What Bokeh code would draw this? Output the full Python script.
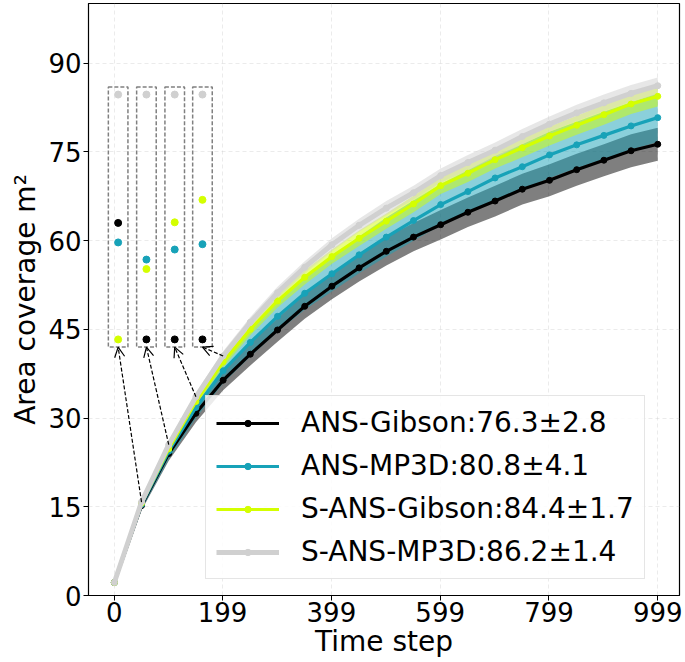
from bokeh.plotting import figure
from bokeh.models import Range1d, FixedTicker, Legend, LegendItem, Arrow, OpenHead
from bokeh.embed import file_html
from bokeh.resources import INLINE

# ---------------- data ----------------
steps = [0, 50, 100, 150, 200, 250, 300, 350, 400, 450, 500,
         550, 600, 650, 700, 750, 800, 850, 900, 950, 999]

ans_gibson = [2.2, 15.2, 24.0, 30.8, 36.4, 40.8, 44.9, 48.9, 52.3, 55.4, 58.2,
              60.6, 62.7, 64.8, 66.7, 68.7, 70.2, 72.0, 73.6, 75.2, 76.3]
ans_mp3d = [2.2, 15.4, 24.4, 31.8, 38.0, 42.8, 47.2, 51.1, 54.4, 57.6, 60.6,
            63.4, 66.1, 68.3, 70.6, 72.5, 74.5, 76.2, 77.8, 79.4, 80.8]
sans_gibson = [2.2, 15.6, 24.8, 32.8, 39.5, 45.0, 49.8, 53.8, 57.3, 60.4, 63.3,
               66.2, 69.3, 71.4, 73.7, 75.7, 77.7, 79.5, 81.3, 83.1, 84.4]
sans_mp3d = [2.2, 15.8, 25.5, 33.6, 40.5, 46.2, 51.2, 55.5, 59.3, 62.6, 65.5,
             68.1, 71.0, 73.2, 75.3, 77.6, 79.7, 81.6, 83.3, 84.9, 86.2]

ans_gibson_std = [0.0, 0.8, 1.2, 1.5, 1.7, 1.9, 2.0, 2.1, 2.2, 2.3, 2.4,
                  2.4, 2.5, 2.5, 2.6, 2.6, 2.7, 2.7, 2.7, 2.8, 2.8]
ans_mp3d_std = [0.0, 0.9, 1.4, 1.8, 2.1, 2.4, 2.6, 2.8, 3.0, 3.1, 3.3,
                3.4, 3.5, 3.6, 3.7, 3.8, 3.9, 3.9, 4.0, 4.0, 4.1]
sans_gibson_std = [0.0, 0.4, 0.6, 0.8, 0.9, 1.0, 1.1, 1.2, 1.2, 1.3, 1.3,
                   1.4, 1.4, 1.5, 1.5, 1.6, 1.6, 1.6, 1.7, 1.7, 1.7]
sans_mp3d_std = [0.0, 0.4, 0.6, 0.7, 0.8, 0.9, 1.0, 1.0, 1.1, 1.1, 1.2,
                 1.2, 1.2, 1.3, 1.3, 1.3, 1.3, 1.4, 1.4, 1.4, 1.4]

labels = ["ANS-Gibson:76.3\u00b12.8", "ANS-MP3D:80.8\u00b14.1",
          "S-ANS-Gibson:84.4\u00b11.7", "S-ANS-MP3D:86.2\u00b11.4"]
colors = ["#000000", "#17a2b8", "#d4ff00", "#d0d0d0"]
line_widths = [3.2, 3.2, 3.2, 5]

# inset (zoomed) boxes: centres in time steps, values shown inside
inset_x = [7, 59, 111, 162]
inset_half_width = 18
inset_bottom = 42.0
inset_top = 86.0
inset_ans_gibson = [63.0, 43.3, 43.3, 43.3]
inset_ans_mp3d = [59.7, 56.8, 58.5, 59.4]
inset_sans_gibson = [43.3, 55.2, 63.1, 66.9]
inset_sans_mp3d = [84.7, 84.7, 84.7, 84.7]
arrow_from_index = [1, 2, 3, 4]

x_ticks = [0, 199, 399, 599, 799, 999]
y_ticks = [0, 15, 30, 45, 60, 75, 90]

FONT = "DejaVu Sans"

# ---------------- figure ----------------
p = figure(width=683, height=662, x_range=Range1d(-47.5, 1039), y_range=Range1d(0, 100.1),
           output_backend="svg", toolbar_location=None,
           min_border_left=88, min_border_right=4, min_border_top=3, min_border_bottom=67)
p.background_fill_color = "white"
p.border_fill_color = "white"
p.outline_line_color = "black"
p.outline_line_width = 1.2

for ax in (p.xaxis, p.yaxis):
    ax.major_label_text_font = FONT
    ax.major_label_text_font_size = "26px"
    ax.major_label_text_color = "black"
    ax.axis_label_text_font = FONT
    ax.axis_label_text_font_size = "28px"
    ax.axis_label_text_font_style = "normal"
    ax.axis_label_text_color = "black"
    ax.axis_line_color = "black"
    ax.major_tick_line_color = "black"
    ax.major_tick_out = 5
    ax.major_tick_in = 0
    ax.minor_tick_line_color = None
    ax.major_label_standoff = 2
    ax.axis_label_standoff = 3
p.xaxis.major_label_standoff = 1
p.xaxis.axis_label_standoff = 0
p.xaxis.ticker = FixedTicker(ticks=x_ticks)
p.yaxis.ticker = FixedTicker(ticks=y_ticks)
p.xaxis.axis_label = "Time step"
p.yaxis.axis_label = "Area coverage m\u00b2"

p.grid.grid_line_color = "#c8c8c8"
p.grid.grid_line_dash = "4 3"
p.grid.grid_line_alpha = 0.45
p.grid.grid_line_width = 0.8

series = [ans_gibson, ans_mp3d, sans_gibson, sans_mp3d]
stds = [ans_gibson_std, ans_mp3d_std, sans_gibson_std, sans_mp3d_std]

# bands
for ys, sd, c in zip(series, stds, colors):
    lo = [y - s for y, s in zip(ys, sd)]
    hi = [y + s for y, s in zip(ys, sd)]
    p.varea(x=steps, y1=lo, y2=hi, fill_color=c, fill_alpha=0.5)

# lines + markers
items = []
for ys, c, lw, lab in zip(series, colors, line_widths, labels):
    r1 = p.line(steps, ys, line_color=c, line_width=lw)
    r2 = p.scatter(steps, ys, size=6, fill_color=c, line_color=c)
    items.append(LegendItem(label=lab, renderers=[r1, r2]))

# inset boxes
for cx in inset_x:
    p.quad(left=cx - inset_half_width, right=cx + inset_half_width,
           bottom=inset_bottom, top=inset_top, fill_color=None,
           line_color="#808080", line_dash="4 2", line_width=1.5)
for vals, c in zip([inset_sans_mp3d, inset_ans_gibson, inset_ans_mp3d, inset_sans_gibson],
                   ["#d0d0d0", "#000000", "#17a2b8", "#d4ff00"]):
    p.scatter(inset_x, vals, size=7, fill_color=c, line_color=c)

# arrows from curve points to the boxes
for cx, idx in zip(inset_x, arrow_from_index):
    p.add_layout(Arrow(end=OpenHead(size=10, line_width=1.2, line_color="black"),
                       x_start=steps[idx], y_start=sans_mp3d[idx],
                       x_end=cx, y_end=inset_bottom,
                       line_color="black", line_width=1.2, line_dash="4 2"))

legend = Legend(items=items, location=(117, 16))
legend.label_text_font = FONT
legend.label_text_font_size = "28px"
legend.label_text_color = "black"
legend.glyph_width = 63
legend.glyph_height = 16
legend.label_height = 30
legend.spacing = 10
legend.padding = 10
legend.margin = 0
legend.label_standoff = 22
legend.border_line_color = "#cccccc"
legend.border_line_width = 1
legend.background_fill_alpha = 0.85
p.add_layout(legend)

open("out.html", "w").write(file_html(p, INLINE))
